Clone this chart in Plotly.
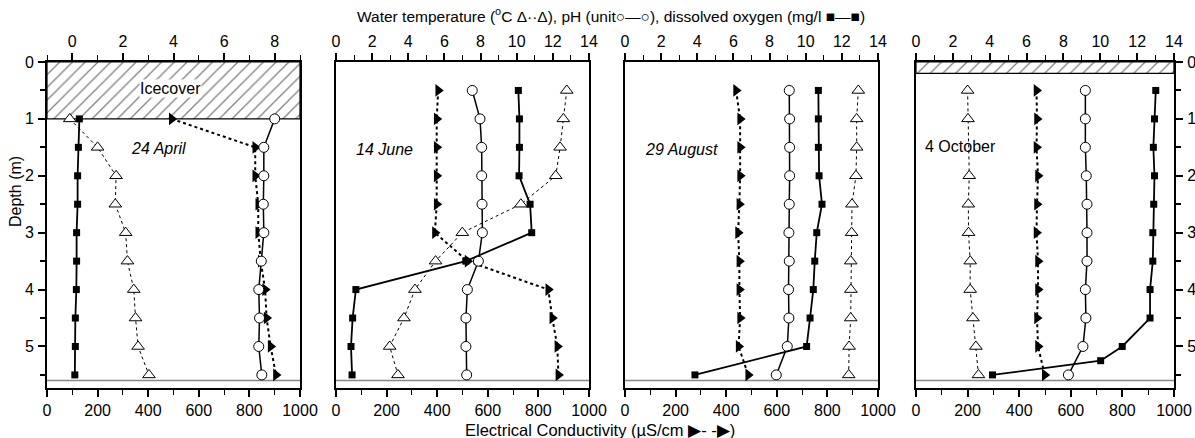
import plotly.graph_objects as go

# ---------------- data ----------------
dates = ["24 April", "14 June", "29 August", "4 October"]
date_italic = [True, True, True, False]

# Panel 1 (24 April)
p1_depth = [1.0, 1.5, 2.0, 2.5, 3.0, 3.5, 4.0, 4.5, 5.0, 5.5]
p1_temp = [-0.1, 1.0, 1.73, 1.7, 2.11, 2.18, 2.43, 2.5, 2.6, 3.03]
p1_ph = [8.0, 7.57, 7.57, 7.55, 7.57, 7.47, 7.37, 7.4, 7.37, 7.49]
p1_do = [0.28, 0.24, 0.21, 0.21, 0.17, 0.17, 0.16, 0.12, 0.12, 0.1]
p1_ec = [493, 823, 823, 835, 835, 845, 862, 868, 884, 905]

# Panel 2 (14 June)
p2_depth = [0.5, 1.0, 1.5, 2.0, 2.5, 3.0, 3.5, 4.0, 4.5, 5.0, 5.5]
p2_temp = [12.77, 12.58, 12.4, 12.16, 10.23, 6.99, 5.51, 4.37, 3.76, 2.97, 3.43]
p2_ph = [7.54, 7.97, 8.06, 8.06, 8.08, 8.1, 7.88, 7.27, 7.19, 7.19, 7.23]
p2_do = [10.09, 10.15, 10.15, 10.13, 10.74, 10.83, 7.18, 1.1, 0.92, 0.83, 0.89]
p2_ec = [404, 398, 398, 398, 398, 391, 520, 839, 855, 875, 879]

# Panel 3 (29 August)
p3_depth = [0.5, 1.0, 1.5, 2.0, 2.5, 3.0, 3.5, 4.0, 4.5, 5.0, 5.5]
p3_temp = [12.91, 12.82, 12.82, 12.78, 12.56, 12.54, 12.49, 12.5, 12.49, 12.4, 12.38]
p3_ph = [9.09, 9.11, 9.11, 9.11, 9.09, 9.07, 9.09, 9.05, 9.07, 8.98, 8.37]
p3_do = [10.7, 10.7, 10.7, 10.74, 10.9, 10.61, 10.5, 10.42, 10.24, 10.05, 3.87]
p3_ec = [439, 455, 455, 455, 452, 447, 452, 452, 455, 449, 487]

# Panel 4 (4 October)
p4_depth = [0.5, 1.0, 1.5, 2.0, 2.5, 3.0, 3.5, 4.0, 4.5, 5.0, 5.5]
p4_temp_depth = [0.5, 1.0, 2.0, 2.5, 3.0, 3.5, 4.0, 4.5, 5.0, 5.5]
p4_temp = [2.8, 2.82, 2.89, 2.84, 2.85, 2.94, 2.94, 3.09, 3.25, 3.39]
p4_ph = [9.19, 9.19, 9.19, 9.24, 9.28, 9.28, 9.28, 9.19, 9.22, 9.06, 8.27]
p4_do_depth = [0.5, 1.0, 1.5, 2.0, 2.5, 3.0, 3.5, 4.0, 4.5, 5.0, 5.25, 5.5]
p4_do = [13.01, 12.94, 12.88, 12.94, 12.9, 12.85, 12.85, 12.7, 12.7, 11.19, 10.02, 4.15]
p4_ec = [467, 469, 467, 473, 469, 467, 473, 473, 469, 473, 499]

ice_depth = [1.0, 0.0, 0.0, 0.2]
sediment_depth = 5.6

top_ranges = [[-1, 9], [0, 14], [0, 14], [0, 14]]
ec_range = [0, 1000]
depth_range = [5.73, 0]
depth_ticks = [0, 1, 2, 3, 4, 5]

# label positions (top-axis value, depth)
date_pos = [(3.4, 1.52), (2.7, 1.54), (3.1, 1.54), (2.4, 1.49)]
ice_label = "Icecover"
ice_label_pos = (3.9, 0.47)

panels = [
    dict(td=p1_depth, t=p1_temp, pd=p1_depth, ph=p1_ph, dd=p1_depth, do=p1_do, ed=p1_depth, ec=p1_ec),
    dict(td=p2_depth, t=p2_temp, pd=p2_depth, ph=p2_ph, dd=p2_depth, do=p2_do, ed=p2_depth, ec=p2_ec),
    dict(td=p3_depth, t=p3_temp, pd=p3_depth, ph=p3_ph, dd=p3_depth, do=p3_do, ed=p3_depth, ec=p3_ec),
    dict(td=p4_temp_depth, t=p4_temp, pd=p4_depth, ph=p4_ph, dd=p4_do_depth, do=p4_do, ed=p4_depth, ec=p4_ec),
]

# ---------------- layout geometry ----------------
W, H = 1195, 438
x_px = [(47, 300), (336, 589), (625, 878), (916, 1174)]
y_top_px, y_bot_px = 62, 388
ydom = [1 - y_bot_px / H, 1 - y_top_px / H]

FONT = "Liberation Sans, Arial, sans-serif"
fig = go.Figure()

for i, p in enumerate(panels):
    n = i + 1
    xb = "x" if n == 1 else f"x{n}"
    xt = f"x{n + 4}"
    ya = "y" if n == 1 else f"y{n}"

    # ice cover (hatched) drawn on the bottom axis, full width
    if ice_depth[i] > 0:
        fig.add_trace(go.Scatter(
            x=[ec_range[0], ec_range[1], ec_range[1], ec_range[0], ec_range[0]],
            y=[0, 0, ice_depth[i], ice_depth[i], 0],
            xaxis=xb, yaxis=ya, mode="lines", fill="toself",
            fillcolor="white",
            fillpattern=dict(shape="/", fgcolor="black", bgcolor="white", size=9, solidity=0.14),
            line=dict(color="black", width=1.2), hoverinfo="skip", showlegend=False))

    # sediment line
    fig.add_trace(go.Scatter(
        x=ec_range, y=[sediment_depth, sediment_depth], xaxis=xb, yaxis=ya,
        mode="lines", line=dict(color="#888888", width=1.5), hoverinfo="skip", showlegend=False))

    # conductivity
    fig.add_trace(go.Scatter(
        x=p["ec"], y=p["ed"], xaxis=xb, yaxis=ya, mode="lines+markers",
        line=dict(color="black", width=2, dash="3px,3px"),
        marker=dict(symbol="triangle-right", size=11, color="black"),
        showlegend=False))

    # temperature
    fig.add_trace(go.Scatter(
        x=p["t"], y=p["td"], xaxis=xt, yaxis=ya, mode="lines+markers",
        line=dict(color="black", width=1, dash="dot"),
        marker=dict(symbol="triangle-up", size=11, color="white", line=dict(color="black", width=1)),
        showlegend=False))
    # pH
    fig.add_trace(go.Scatter(
        x=p["ph"], y=p["pd"], xaxis=xt, yaxis=ya, mode="lines+markers",
        line=dict(color="black", width=1.5),
        marker=dict(symbol="circle", size=10, color="white", line=dict(color="black", width=1)),
        showlegend=False))
    # dissolved oxygen
    fig.add_trace(go.Scatter(
        x=p["do"], y=p["dd"], xaxis=xt, yaxis=ya, mode="lines+markers",
        line=dict(color="black", width=1.8),
        marker=dict(symbol="square", size=7, color="black"),
        showlegend=False))

    dom = [x_px[i][0] / W, x_px[i][1] / W]
    tickfont = dict(family=FONT, size=16, color="black")
    fig.update_layout(**{
        ("xaxis" if n == 1 else f"xaxis{n}"): dict(
            domain=dom, range=ec_range, anchor=ya, side="bottom", automargin=False,
            showline=True, linecolor="black", linewidth=2,
            ticks="outside", ticklen=7, tickwidth=1.5, tickcolor="black",
            dtick=200, tick0=0, showgrid=False, zeroline=False, tickfont=tickfont,
            minor=dict(dtick=100, ticklen=5, tickwidth=1, tickcolor="black", ticks="outside", showgrid=False),
            fixedrange=True),
        f"xaxis{n + 4}": dict(
            domain=dom, range=top_ranges[i], anchor=ya, overlaying=xb, side="top", automargin=False,
            showline=True, linecolor="black", linewidth=2,
            ticks="outside", ticklen=7, tickwidth=1.5, tickcolor="black",
            dtick=2, tick0=0, showgrid=False, zeroline=False, tickfont=tickfont,
            minor=dict(dtick=1, ticklen=5, tickwidth=1, tickcolor="black", ticks="outside", showgrid=False),
            fixedrange=True),
        ("yaxis" if n == 1 else f"yaxis{n}"): dict(
            domain=ydom, range=depth_range, anchor=xb, automargin=False,
            side="right" if n == 4 else "left",
            showline=True, linecolor="black", linewidth=2, mirror=True,
            showgrid=False, zeroline=False,
            ticks="outside" if n in (1, 4) else "",
            showticklabels=n in (1, 4),
            tickvals=depth_ticks if n in (1, 4) else [],
            ticklen=7, tickwidth=1.5, tickcolor="black", tickfont=tickfont,
            ticklabelstandoff=1,
            minor=dict(dtick=0.5, ticklen=5, tickwidth=1.5, tickcolor="black",
                       ticks="outside" if n in (1, 4) else "", showgrid=False),
            fixedrange=True),
    })

    # date label
    label = f"<i>{dates[i]}</i>" if date_italic[i] else dates[i]
    fig.add_annotation(x=date_pos[i][0], y=date_pos[i][1], xref=xt, yref=ya, text=label,
                       showarrow=False, font=dict(family=FONT, size=16, color="black"))

# ice cover label
fig.add_annotation(x=ice_label_pos[0], y=ice_label_pos[1], xref="x5", yref="y", text=ice_label,
                   showarrow=False, bgcolor="white", borderpad=0,
                   font=dict(family=FONT, size=16, color="black"))

# titles
fig.add_annotation(x=611 / W, y=1 - 15 / H, xref="paper", yref="paper", yanchor="middle",
                   text="Water temperature (<sup>o</sup>C \u0394\u00b7\u00b7\u0394), pH (unit\u25cb\u2014\u25cb), dissolved oxygen (mg/l \u25a0\u2014\u25a0)",
                   showarrow=False, font=dict(family=FONT, size=15.5, color="black"))
fig.add_annotation(x=600 / W, y=1 - 430 / H, xref="paper", yref="paper", yanchor="middle",
                   text="Electrical Conductivity (\u00b5S/cm \u25b6- -\u25b6)",
                   showarrow=False, font=dict(family=FONT, size=16.5, color="black"))
fig.add_annotation(x=15 / W, y=1 - 192 / H, xref="paper", yref="paper", textangle=-90,
                   xanchor="center", yanchor="middle",
                   text="Depth (m)", showarrow=False, font=dict(family=FONT, size=16, color="black"))

fig.update_layout(width=W, height=H, autosize=False, margin=dict(l=0, r=0, t=0, b=0, pad=0),
                  paper_bgcolor="white", plot_bgcolor="white", showlegend=False)

fig.write_html("out.html")
